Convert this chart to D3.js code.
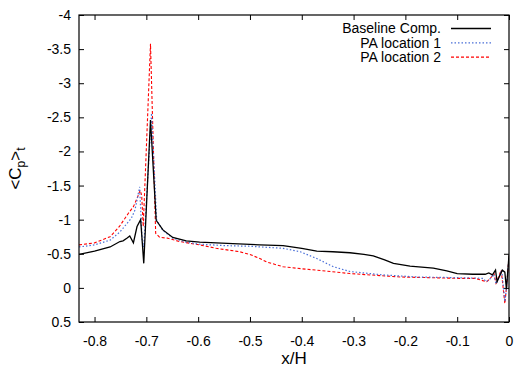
<!DOCTYPE html>
<html>
<head>
<meta charset="utf-8">
<script src="https://cdn.jsdelivr.net/npm/d3@7.9.0/dist/d3.min.js"></script>
<style>
  html, body { margin: 0; padding: 0; background: #fff; }
  svg { display: block; font-family: "Liberation Sans", Arial, sans-serif; }
  .tick text { font-size: 14px; fill: #000; }
  .tick line { stroke: #000; }
  .domain { display: none; }
</style>
</head>
<body>
<svg id="chart" width="514" height="372"></svg>
<script>
// ---- data (x/H, <Cp>t) ----
const baseline = [
  [-0.83, -0.49], [-0.80, -0.54], [-0.77, -0.60], [-0.751, -0.68], [-0.745, -0.69],
  [-0.737, -0.73], [-0.732, -0.76], [-0.725, -0.66], [-0.718, -0.90], [-0.711, -1.00],
  [-0.705, -0.36], [-0.692, -2.46], [-0.681, -0.99], [-0.668, -0.85], [-0.649, -0.74],
  [-0.623, -0.69], [-0.597, -0.67], [-0.533, -0.65], [-0.481, -0.63], [-0.436, -0.62],
  [-0.40, -0.58], [-0.371, -0.54], [-0.34, -0.53], [-0.307, -0.515], [-0.28, -0.49],
  [-0.262, -0.47], [-0.24, -0.41], [-0.223, -0.36], [-0.191, -0.32], [-0.146, -0.29],
  [-0.12, -0.25], [-0.10, -0.21], [-0.07, -0.20], [-0.046, -0.20], [-0.039, -0.22],
  [-0.032, -0.19], [-0.026, -0.26], [-0.023, -0.09], [-0.013, -0.26], [-0.008, -0.23],
  [-0.005, 0.02], [0, -0.48]
];
const paLoc1 = [
  [-0.83, -0.60], [-0.80, -0.63], [-0.77, -0.70], [-0.751, -0.82], [-0.729, -1.02],
  [-0.722, -1.14], [-0.718, -1.29], [-0.713, -1.48], [-0.708, -0.68], [-0.705, -0.60],
  [-0.690, -2.56], [-0.680, -0.99], [-0.668, -0.84], [-0.649, -0.73], [-0.623, -0.67],
  [-0.597, -0.64], [-0.55, -0.62], [-0.50, -0.61], [-0.436, -0.58], [-0.403, -0.53],
  [-0.371, -0.43], [-0.339, -0.31], [-0.307, -0.24], [-0.243, -0.19], [-0.178, -0.16],
  [-0.10, -0.15], [-0.05, -0.14], [-0.044, -0.09], [-0.038, -0.12], [-0.030, -0.20],
  [-0.025, -0.06], [-0.014, -0.26], [-0.008, 0.20], [-0.004, -0.05], [0, -0.46]
];
const paLoc2 = [
  [-0.83, -0.63], [-0.80, -0.66], [-0.77, -0.75], [-0.752, -0.90], [-0.735, -1.09],
  [-0.725, -1.19], [-0.718, -1.31], [-0.712, -1.43], [-0.709, -1.36], [-0.706, -0.90],
  [-0.692, -3.58], [-0.682, -0.80], [-0.674, -0.74], [-0.66, -0.73], [-0.636, -0.68],
  [-0.597, -0.63], [-0.565, -0.58], [-0.52, -0.53], [-0.50, -0.49], [-0.481, -0.43],
  [-0.468, -0.38], [-0.436, -0.31], [-0.40, -0.28], [-0.371, -0.26], [-0.307, -0.21],
  [-0.21, -0.16], [-0.10, -0.14], [-0.065, -0.14], [-0.052, -0.11], [-0.043, -0.09],
  [-0.036, -0.14], [-0.029, -0.21], [-0.025, -0.07], [-0.015, -0.26], [-0.008, 0.23],
  [-0.004, -0.07], [0, -0.46]
];
const seriesNames = ['Baseline Comp.', 'PA location 1', 'PA location 2'];
const xTicks = [-0.8, -0.7, -0.6, -0.5, -0.4, -0.3, -0.2, -0.1, 0];
const yTicks = [-4, -3.5, -3, -2.5, -2, -1.5, -1, -0.5, 0, 0.5];

// ---- chart ----
const width = 514, height = 372;
const margin = { top: 15, right: 5, bottom: 50, left: 79 };
const svg = d3.select('#chart');

const x = d3.scaleLinear().domain([-0.83, 0]).range([margin.left, width - margin.right]);
const y = d3.scaleLinear().domain([-4, 0.5]).range([margin.top, height - margin.bottom]);
const pw = width - margin.left - margin.right;
const ph = height - margin.top - margin.bottom;
const fmt = d => String(+d.toFixed(2));
const tickLen = 5;

// axes with inward ticks (gnuplot mirror style)
svg.append('g')
  .attr('transform', `translate(0,${height - margin.bottom})`)
  .call(d3.axisBottom(x).tickValues(xTicks).tickFormat(fmt).tickSize(-tickLen).tickPadding(14))
  .selectAll('text').attr('dy', '0.71em');
svg.append('g')
  .attr('transform', `translate(0,${margin.top})`)
  .call(d3.axisTop(x).tickValues(xTicks).tickFormat('').tickSize(-tickLen));
svg.append('g')
  .attr('transform', `translate(${margin.left},0)`)
  .call(d3.axisLeft(y).tickValues(yTicks).tickFormat(fmt).tickSize(-tickLen).tickPadding(8));
svg.append('g')
  .attr('transform', `translate(${width - margin.right},0)`)
  .call(d3.axisRight(y).tickValues(yTicks).tickFormat('').tickSize(-tickLen));

// lines
const line = d3.line().x(d => x(d[0])).y(d => y(d[1]));
const styles = [
  { color: '#000000', dash: null, w: 1.3 },
  { color: '#4a6fd8', dash: '1.5,2', w: 1.2 },
  { color: '#ff0000', dash: '3,2', w: 1.1 }
];
const allSeries = [baseline, paLoc1, paLoc2];

svg.append('defs').append('clipPath').attr('id', 'clip')
  .append('rect').attr('x', margin.left).attr('y', margin.top).attr('width', pw).attr('height', ph);

const plot = svg.append('g').attr('clip-path', 'url(#clip)');
// draw PA curves first, baseline on top like the reference
[2, 1, 0].forEach(i => {
  plot.append('path')
    .datum(allSeries[i])
    .attr('d', line)
    .attr('fill', 'none')
    .attr('stroke', styles[i].color)
    .attr('stroke-width', styles[i].w)
    .attr('stroke-dasharray', styles[i].dash);
});

// frame
svg.append('rect')
  .attr('x', margin.left).attr('y', margin.top)
  .attr('width', pw).attr('height', ph)
  .attr('fill', 'none').attr('stroke', '#000').attr('stroke-width', 1.2);

// legend
const legend = svg.append('g');
seriesNames.forEach((name, i) => {
  const cy = 28.5 + i * 14.3;
  legend.append('text')
    .attr('x', 441).attr('y', cy).attr('dy', '0.35em')
    .attr('text-anchor', 'end')
    .style('font-size', '14px')
    .text(name);
  legend.append('line')
    .attr('x1', 451).attr('x2', 491).attr('y1', cy).attr('y2', cy)
    .attr('stroke', styles[i].color)
    .attr('stroke-width', styles[i].w)
    .attr('stroke-dasharray', styles[i].dash);
});

// axis labels
svg.append('text')
  .attr('x', margin.left + pw / 2).attr('y', 364)
  .attr('text-anchor', 'middle')
  .style('font-size', '17px')
  .text('x/H');

const yl = svg.append('text')
  .attr('transform', `translate(21,${margin.top + ph / 2}) rotate(-90)`)
  .attr('text-anchor', 'middle')
  .style('font-size', '17px');
yl.append('tspan').text('<C');
yl.append('tspan').attr('dy', 4).style('font-size', '12px').text('p');
yl.append('tspan').attr('dy', -4).text('>');
yl.append('tspan').attr('dy', 4).style('font-size', '12px').text('t');
</script>
</body>
</html>
